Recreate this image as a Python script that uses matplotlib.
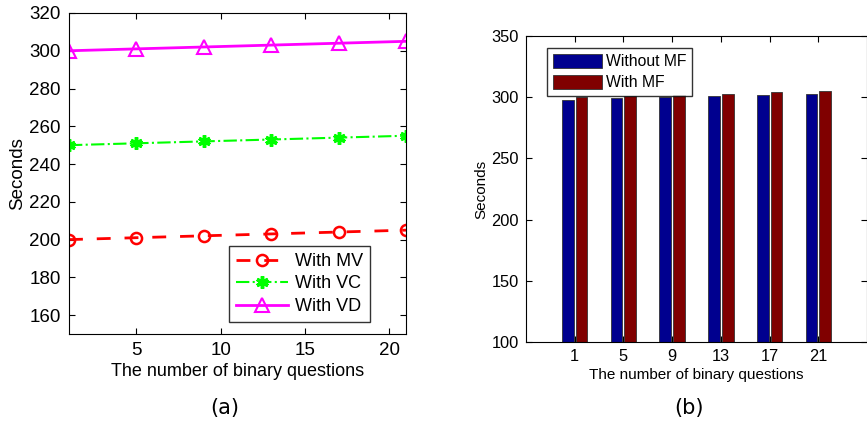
import numpy as np
import matplotlib.pyplot as plt

# Data
questions = [1, 5, 9, 13, 17, 21]
with_mv = [200, 201, 202, 203, 204, 205]
with_vc = [250, 251, 252, 253, 254, 255]
with_vd = [300, 301, 302, 303, 304, 305]

bar_labels = ["1", "5", "9", "13", "17", "21"]
without_mf = [298, 299, 300, 301, 302, 303]
with_mf = [300, 301, 302, 303, 304, 305]

plt.rcParams['font.family'] = ['Liberation Sans', 'DejaVu Sans']

fig = plt.figure(figsize=(8.67, 4.22), dpi=100)

# (a) line chart
ax1 = fig.add_axes([69 / 867, 1 - 334 / 422, 337 / 867, 321 / 422])
ax1.plot(questions, with_mv, '--o', color='red', lw=2, ms=8, mfc='none', mew=1.8,
         dashes=(5, 5), label='With MV')
ax1.plot(questions, with_vc, '-.', color='#00ff00', lw=1.5, marker=(6, 2, 0), ms=9,
         mew=2.5, label='With VC')
ax1.plot(questions, with_vd, '-^', color='magenta', lw=2, ms=10, mfc='none', mew=1.5,
         label='With VD')
ax1.set_xlim(1, 21)
ax1.set_ylim(150, 320)
ax1.set_yticks(range(160, 321, 20))
ax1.set_xticks([5, 10, 15, 20])
ax1.tick_params(direction='in', labelsize=13.5, top=True, right=True, length=4, pad=6)
ax1.set_xlabel('The number of binary questions', fontsize=13, labelpad=3)
ax1.set_ylabel('Seconds', fontsize=13.5, labelpad=2)
leg1 = ax1.legend(loc='lower right', fontsize=13, fancybox=False, edgecolor='black',
                  handlelength=2.9, handletextpad=0.35, borderpad=0.4,
                  labelspacing=0.3, borderaxespad=0, bbox_to_anchor=(0.893, 0.037))
leg1.get_frame().set_linewidth(1.0)
fig.text(225 / 867, 1 - 408 / 422, '(a)', ha='center', va='center', fontsize=15,
         family='DejaVu Sans')

# (b) grouped bar chart
ax2 = fig.add_axes([526 / 867, 1 - 342 / 422, 341 / 867, 306 / 422])
x = np.arange(1, len(bar_labels) + 1)
w = 0.24
ax2.bar(x - 0.14, np.array(without_mf) - 100, w, bottom=100, color='#00008f',
        edgecolor='#333333', lw=0.6, label='Without MF')
ax2.bar(x + 0.14, np.array(with_mf) - 100, w, bottom=100, color='#800000',
        edgecolor='#333333', lw=0.6, label='With MF')
ax2.set_xlim(0, 7)
ax2.set_ylim(100, 350)
ax2.set_xticks(x)
ax2.set_xticklabels(bar_labels)
ax2.set_yticks(range(100, 351, 50))
ax2.tick_params(direction='in', labelsize=11.8, top=True, right=True, length=4, pad=5)
ax2.set_xlabel('The number of binary questions', fontsize=11, labelpad=3)
ax2.set_ylabel('Seconds', fontsize=11, labelpad=2)
leg2 = ax2.legend(loc='upper left', fontsize=11.3, fancybox=False, edgecolor='black',
                  handlelength=3.1, handleheight=1.0, borderpad=0.35, labelspacing=0.35,
                  handletextpad=0.25, bbox_to_anchor=(0.04, 0.985))
leg2.get_frame().set_linewidth(1.0)
fig.text(689 / 867, 1 - 408 / 422, '(b)', ha='center', va='center', fontsize=15,
         family='DejaVu Sans')

fig.savefig('out.png', dpi=100)
